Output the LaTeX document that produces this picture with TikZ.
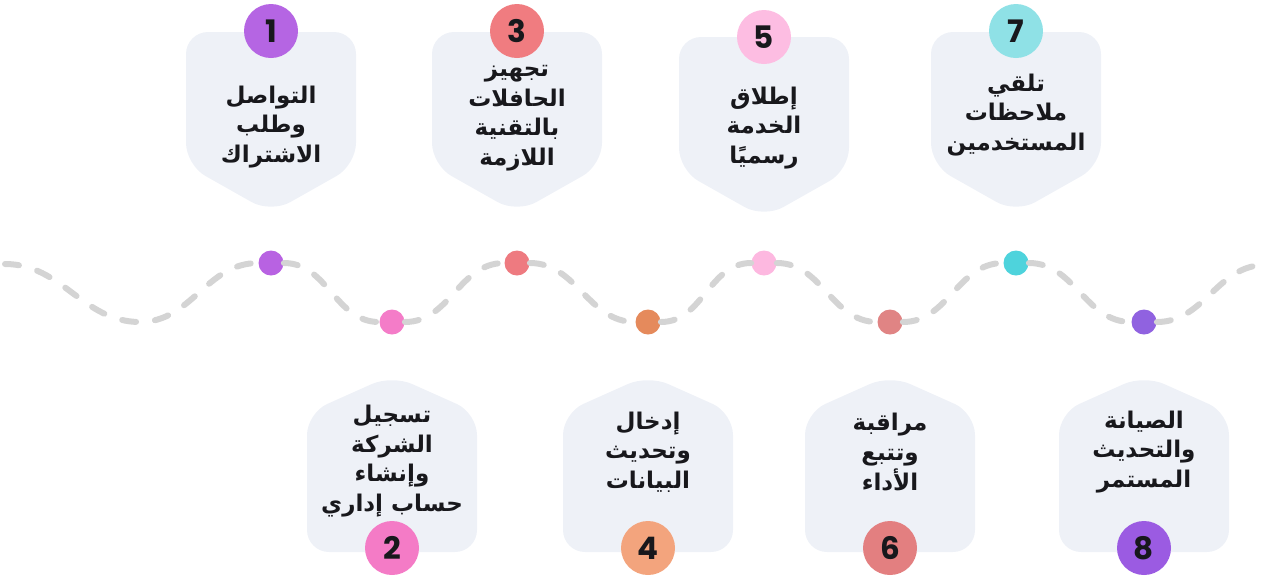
\documentclass[tikz,border=0pt]{standalone}
\usepackage{fontspec}
\setmainfont{Poppins}
\newfontfamily\arabicfont[Script=Arabic]{DejaVu Sans}
\TeXXeTstate=1
\usepackage{xcolor}

\definecolor{cardfill}{HTML}{EEF1F7}
\definecolor{wavegray}{HTML}{D4D4D4}
\definecolor{inkdark}{HTML}{18181C}
% number circles
\definecolor{numA}{HTML}{B565E3}
\definecolor{numB}{HTML}{F47BC6}
\definecolor{numC}{HTML}{F07C80}
\definecolor{numD}{HTML}{F3A47D}
\definecolor{numE}{HTML}{FDBDE2}
\definecolor{numF}{HTML}{E37F80}
\definecolor{numG}{HTML}{8FE1E6}
\definecolor{numH}{HTML}{9B5BE2}
% dots on the wave
\definecolor{dotA}{HTML}{B862E2}
\definecolor{dotB}{HTML}{F47CC8}
\definecolor{dotC}{HTML}{EE7A80}
\definecolor{dotD}{HTML}{E58A5C}
\definecolor{dotE}{HTML}{FDB8E0}
\definecolor{dotF}{HTML}{E08484}
\definecolor{dotG}{HTML}{4ED3DC}
\definecolor{dotH}{HTML}{9062E0}

\newcommand\rl[1]{\beginR #1\endR}

\begin{document}
\begin{tikzpicture}[x=0.5pt,y=-0.5pt,
      card/.style={fill=cardfill,rounded corners=11pt},
      num/.style={circle,minimum size=27pt,inner sep=0pt,text=inkdark,
        font=\fontsize{15.5}{15.5}\selectfont\bfseries},
      dot/.style={circle,minimum size=12.5pt,inner sep=0pt},
      steptext/.style={align=center,text=inkdark,
        font=\arabicfont\bfseries\fontsize{11.5}{14.8}\selectfont},
      wave/.style={draw=wavegray,line width=3pt,dash pattern=on 7pt off 9.5pt,
        line cap=round}]
    \useasboundingbox (0,0) rectangle (1269,575);

    % cards above the line
    \foreach \x/\t in {271/0,517/0,764/5,1016/0}
      \fill[card] (\x,32+\t) -- (\x+85,32+\t) -- (\x+85,165+\t) -- (\x,213+\t)
        -- (\x-85,165+\t) -- (\x-85,32+\t) -- cycle;
    % cards below the line
    \foreach \x in {392,648,890,1144}
      \fill[card] (\x,552) -- (\x+85,552) -- (\x+85,413) -- (\x,375)
        -- (\x-85,413) -- (\x-85,552) -- cycle;

    % dots
    \node[dot,fill=dotA] (d1) at (271,263) {};
    \node[dot,fill=dotB] (d2) at (392,322) {};
    \node[dot,fill=dotC] (d3) at (517,263) {};
    \node[dot,fill=dotD] (d4) at (648,322) {};
    \node[dot,fill=dotE] (d5) at (764,263) {};
    \node[dot,fill=dotF] (d6) at (890,322) {};
    \node[dot,fill=dotG] (d7) at (1016,263) {};
    \node[dot,fill=dotH] (d8) at (1144,322) {};
    \coordinate (wL) at (5,264);
    \coordinate (wR) at (1265,265);

    \draw[wave] (wL) to[out=0,in=180] (140,322) to[out=0,in=180] (d1)
      to[out=0,in=180] (d2) to[out=0,in=180] (d3) to[out=0,in=180] (d4)
      to[out=0,in=180] (d5) to[out=0,in=180] (d6) to[out=0,in=180] (d7)
      to[out=0,in=180] (d8) to[out=0,in=180] (wR);

    % numbers
    \node[num,fill=numA] (n1) at (271,31) {1};
    \node[num,fill=numC] (n3) at (517,31) {3};
    \node[num,fill=numE] (n5) at (764,37) {5};
    \node[num,fill=numG] (n7) at (1016,31) {7};
    \node[num,fill=numB] (n2) at (392,548) {2};
    \node[num,fill=numD] (n4) at (648,548) {4};
    \node[num,fill=numF] (n6) at (890,548) {6};
    \node[num,fill=numH] (n8) at (1144,548) {8};

    % texts
    \node[steptext] (t1) at (271,127) {\rl{التواصل}\\\rl{وطلب}\\\rl{الاشتراك}};
    \node[steptext] (t3) at (517,118) {\rl{تجهيز}\\\rl{الحافلات}\\\rl{بالتقنية}\\\rl{اللازمة}};
    \node[steptext] (t5) at (764,128) {\rl{إطلاق}\\\rl{الخدمة}\\\rl{رسميًا}};
    \node[steptext] (t7) at (1016,115) {\rl{تلقي}\\\rl{ملاحظات}\\\rl{المستخدمين}};
    \node[steptext] (t2) at (392,461) {\rl{تسجيل}\\\rl{الشركة}\\\rl{وإنشاء}\\\rl{حساب إداري}};
    \node[steptext] (t4) at (648,452) {\rl{إدخال}\\\rl{وتحديث}\\\rl{البيانات}};
    \node[steptext] (t6) at (890,452) {\rl{مراقبة}\\\rl{وتتبع}\\\rl{الأداء}};
    \node[steptext] (t8) at (1144,452) {\rl{الصيانة}\\\rl{والتحديث}\\\rl{المستمر}};
\end{tikzpicture}
\end{document}
